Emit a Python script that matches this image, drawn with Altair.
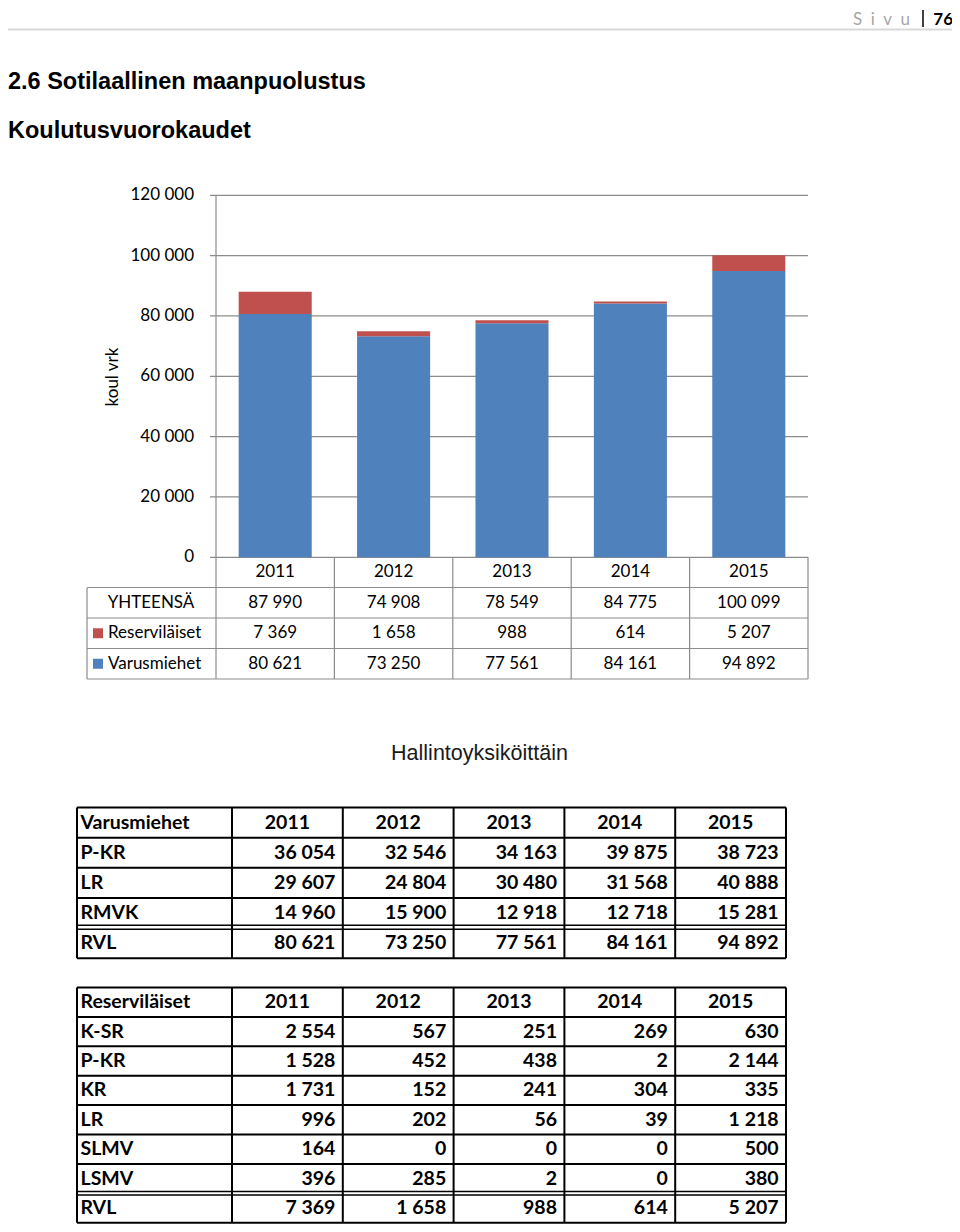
import altair as alt
import pandas as pd

# ---------------- data ----------------
years = ["2011", "2012", "2013", "2014", "2015"]
varusmiehet = [80621, 73250, 77561, 84161, 94892]
reservilaiset = [7369, 1658, 988, 614, 5207]
series_names = ["Varusmiehet", "Reserviläiset"]
series_colors = ["#4f81bd", "#c0504d"]
y_ticks = [0, 20000, 40000, 60000, 80000, 100000, 120000]
y_tick_labels = ["0", "20 000", "40 000", "60 000", "80 000", "100 000", "120 000"]
y_title = "koul vrk"
total_label = "YHTEENSÄ"

var_header = "Varusmiehet"
var_units = ["P-KR", "LR", "RMVK"]
var_pkr = [36054, 32546, 34163, 39875, 38723]
var_lr = [29607, 24804, 30480, 31568, 40888]
var_rmvk = [14960, 15900, 12918, 12718, 15281]
var_rvl = [80621, 73250, 77561, 84161, 94892]

res_header = "Reserviläiset"
res_units = ["K-SR", "P-KR", "KR", "LR", "SLMV", "LSMV"]
res_ksr = [2554, 567, 251, 269, 630]
res_pkr = [1528, 452, 438, 2, 2144]
res_kr = [1731, 152, 241, 304, 335]
res_lr = [996, 202, 56, 39, 1218]
res_slmv = [164, 0, 0, 0, 500]
res_lsmv = [396, 285, 2, 0, 380]
res_rvl = [7369, 1658, 988, 614, 5207]
total_row = "RVL"

page_word = "Sivu"
page_number = "76"
title_1 = "2.6 Sotilaallinen maanpuolustus"
title_2 = "Koulutusvuorokaudet"
title_3 = "Hallintoyksiköittäin"


def fmt(v):
    return f"{v:,}".replace(",", " ")


def P(v):
    # page pixel -> chart pixel (8px body margin)
    return v - 8


CAL = "Lato"
ARIAL = "Liberation Sans"
GRID = "#8c8c8c"

L = []

# ---------------- page header ----------------
L.append(alt.Chart(pd.DataFrame({"t": ["\u2002".join(page_word)]})).mark_text(
    align="right", baseline="alphabetic", font=CAL, fontSize=17, color="#a6a6a6"
).encode(x=alt.value(P(910)), y=alt.value(P(25)), text="t:N"))
L.append(alt.Chart(pd.DataFrame({"t": [page_number]})).mark_text(
    align="right", baseline="alphabetic", font=CAL, fontSize=17, fontWeight="bold", color="black"
).encode(x=alt.value(P(953)), y=alt.value(P(25)), text="t:N"))
L.append(alt.Chart(pd.DataFrame({"k": [0]})).mark_rule(color="black", strokeWidth=1.5).encode(
    x=alt.value(P(923)), y=alt.value(P(10)), y2=alt.value(P(27))))
L.append(alt.Chart(pd.DataFrame({"k": [0]})).mark_rule(color="#d9d9d9", strokeWidth=2).encode(
    x=alt.value(0), x2=alt.value(944), y=alt.value(P(29.5))))

for txt, yy in [(title_1, 82), (title_2, 131)]:
    L.append(alt.Chart(pd.DataFrame({"t": [txt]})).mark_text(
        align="left", baseline="middle", font=ARIAL, fontSize=23.5, fontWeight="bold", color="black"
    ).encode(x=alt.value(0), y=alt.value(P(yy)), text="t:N"))

# ---------------- bar chart ----------------
yscale = alt.Scale(domain=[0, 120000], range=[P(557.3), P(195.3)], nice=False, zero=True)
xband = alt.Scale(type="band", domain=years, range=[P(216), P(808)], paddingInner=0.383, paddingOuter=0.1915)
xpt = alt.Scale(type="point", domain=years, range=[P(216), P(808)], padding=0.5)

ydf = pd.DataFrame({"v": y_ticks, "lab": y_tick_labels})
L.append(alt.Chart(ydf).mark_rule(color=GRID, strokeWidth=1.2).encode(
    y=alt.Y("v:Q", scale=yscale, axis=None), x=alt.value(P(210)), x2=alt.value(P(808))))
L.append(alt.Chart(ydf).mark_text(align="right", baseline="middle", font=CAL, fontSize=17, color="black").encode(
    y=alt.Y("v:Q", scale=yscale, axis=None), x=alt.value(P(194)), text="lab:N"))
L.append(alt.Chart(pd.DataFrame({"t": [y_title]})).mark_text(
    align="center", baseline="middle", font=CAL, fontSize=17, angle=270, color="black"
).encode(x=alt.value(P(113)), y=alt.value(P(377)), text="t:N"))

bars_df = pd.DataFrame({
    "year": years * 2,
    "series": [series_names[0]] * 5 + [series_names[1]] * 5,
    "value": varusmiehet + reservilaiset,
    "ord": [0] * 5 + [1] * 5,
})
L.append(alt.Chart(bars_df).mark_bar().encode(
    x=alt.X("year:N", scale=xband, axis=None),
    y=alt.Y("value:Q", scale=yscale, axis=None, stack="zero"),
    color=alt.Color("series:N", scale=alt.Scale(domain=series_names, range=series_colors), legend=None),
    order=alt.Order("ord:Q"),
))

# data table under the chart
tbl_rows = ["year", total_label, series_names[1], series_names[0]]
yrow = alt.Scale(type="point", domain=tbl_rows, range=[P(557), P(679)], padding=0.5)
totals = [a + b for a, b in zip(varusmiehet, reservilaiset)]
recs = []
for i, yv in enumerate(years):
    recs.append({"year": yv, "row": "year", "t": yv})
    recs.append({"year": yv, "row": total_label, "t": fmt(totals[i])})
    recs.append({"year": yv, "row": series_names[1], "t": fmt(reservilaiset[i])})
    recs.append({"year": yv, "row": series_names[0], "t": fmt(varusmiehet[i])})
L.append(alt.Chart(pd.DataFrame(recs)).mark_text(
    align="center", baseline="middle", font=CAL, fontSize=17, color="black"
).encode(x=alt.X("year:N", scale=xpt, axis=None), y=alt.Y("row:N", scale=yrow, axis=None), text="t:N"))

L.append(alt.Chart(pd.DataFrame({"row": [total_label]})).mark_text(
    align="center", baseline="middle", font=CAL, fontSize=17, color="black"
).encode(x=alt.value(P(151)), y=alt.Y("row:N", scale=yrow, axis=None), text="row:N"))
leg_df = pd.DataFrame({"row": [series_names[1], series_names[0]]})
L.append(alt.Chart(leg_df).mark_text(
    align="left", baseline="middle", font=CAL, fontSize=17, color="black"
).encode(x=alt.value(P(108)), y=alt.Y("row:N", scale=yrow, axis=None), text="row:N"))
L.append(alt.Chart(leg_df).mark_square(size=100, opacity=1).encode(
    x=alt.value(P(98)), y=alt.Y("row:N", scale=yrow, axis=None),
    color=alt.Color("row:N", scale=alt.Scale(domain=series_names, range=series_colors), legend=None)))

# table grid lines
rb = alt.Scale(domain=[0, 4], range=[P(557), P(679)], nice=False, zero=False)
L.append(alt.Chart(pd.DataFrame({"b": [1, 2, 3, 4]})).mark_rule(color=GRID, strokeWidth=1.2).encode(
    y=alt.Y("b:Q", scale=rb, axis=None), x=alt.value(P(87)), x2=alt.value(P(808))))
cb = alt.Scale(domain=[0, 5], range=[P(216), P(808)], nice=False, zero=False)
L.append(alt.Chart(pd.DataFrame({"b": [1, 2, 3, 4, 5]})).mark_rule(color=GRID, strokeWidth=1.2).encode(
    x=alt.X("b:Q", scale=cb, axis=None), y=alt.value(P(557)), y2=alt.value(P(679))))
L.append(alt.Chart(pd.DataFrame({"b": [0]})).mark_rule(color=GRID, strokeWidth=1.2).encode(
    x=alt.X("b:Q", scale=cb, axis=None), y=alt.value(P(195.3)), y2=alt.value(P(679))))
L.append(alt.Chart(pd.DataFrame({"k": [0]})).mark_rule(color=GRID, strokeWidth=1.2).encode(
    x=alt.value(P(87)), y=alt.value(P(588)), y2=alt.value(P(679))))

# ---------------- section title ----------------
L.append(alt.Chart(pd.DataFrame({"t": [title_3]})).mark_text(
    align="center", baseline="middle", font=ARIAL, fontSize=21.5, color="#1a1a1a"
).encode(x=alt.value(P(479.5)), y=alt.value(P(753.5)), text="t:N"))


# ---------------- tables ----------------
def table(header, units, series, totals_, top, rh, dbl):
    rows = [header] + units + [total_row]
    n = len(rows)
    bottom = top + n * rh
    yr = alt.Scale(type="point", domain=rows, range=[P(top), P(bottom)], padding=0.5)
    xr = alt.Scale(type="point", domain=years, range=[P(232), P(786)], padding=0.5)
    out = []
    style = dict(baseline="middle", font=CAL, fontSize=19.5, fontWeight="bold", color="black")
    out.append(alt.Chart(pd.DataFrame({"row": rows})).mark_text(align="left", **style).encode(
        x=alt.value(P(80.5)), y=alt.Y("row:N", scale=yr, axis=None), text="row:N"))
    out.append(alt.Chart(pd.DataFrame({"year": years, "row": [header] * 5})).mark_text(align="center", **style).encode(
        x=alt.X("year:N", scale=xr, axis=None), y=alt.Y("row:N", scale=yr, axis=None), text="year:N"))
    recs_ = []
    for u, vals in zip(units + [total_row], series + [totals_]):
        for yv, v in zip(years, vals):
            recs_.append({"row": u, "year": yv, "t": fmt(v)})
    out.append(alt.Chart(pd.DataFrame(recs_)).mark_text(align="right", dx=48, **style).encode(
        x=alt.X("year:N", scale=xr, axis=None), y=alt.Y("row:N", scale=yr, axis=None), text="t:N"))
    hs = alt.Scale(domain=[0, n], range=[P(top), P(bottom)], nice=False, zero=False)
    out.append(alt.Chart(pd.DataFrame({"b": [i for i in range(n + 1) if i != n - 1]})).mark_rule(
        color="black", strokeWidth=2).encode(
        y=alt.Y("b:Q", scale=hs, axis=None), x=alt.value(P(77)), x2=alt.value(P(786))))
    for off in dbl:
        out.append(alt.Chart(pd.DataFrame({"b": [n - 1]})).mark_rule(
            color="black", strokeWidth=1.5, yOffset=off).encode(
            y=alt.Y("b:Q", scale=hs, axis=None), x=alt.value(P(77)), x2=alt.value(P(786))))
    vs = alt.Scale(domain=[0, 5], range=[P(232), P(786)], nice=False, zero=False)
    out.append(alt.Chart(pd.DataFrame({"b": list(range(6))})).mark_rule(color="black", strokeWidth=2).encode(
        x=alt.X("b:Q", scale=vs, axis=None), y=alt.value(P(top)), y2=alt.value(P(bottom))))
    out.append(alt.Chart(pd.DataFrame({"k": [0]})).mark_rule(color="black", strokeWidth=2).encode(
        x=alt.value(P(77)), y=alt.value(P(top)), y2=alt.value(P(bottom))))
    return out


L += table(var_header, var_units, [var_pkr, var_lr, var_rmvk], var_rvl, 807.5, 30.16, [-3, 1.2])
L += table(res_header, res_units, [res_ksr, res_pkr, res_kr, res_lr, res_slmv, res_lsmv], res_rvl,
           987.5, 29.4, [-1.8, 1.8])

chart = alt.layer(*L).resolve_scale(
    x="independent", y="independent", color="independent"
).properties(
    width=944, height=1216, autosize=alt.AutoSizeParams(type="none"), padding=0
).configure_view(stroke=None)

chart.save("out.html", embed_options={"renderer": "svg", "actions": False})
